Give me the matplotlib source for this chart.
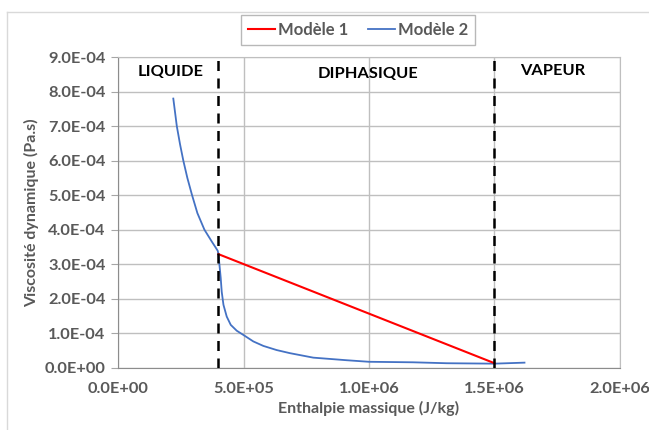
import numpy as np
import matplotlib.pyplot as plt
from matplotlib.lines import Line2D

# Modèle 1 : droite dans la zone diphasique
h_m1 = [4.0e5, 1.5e6]
mu_m1 = [3.29e-4, 1.3e-5]

# Modèle 2 : courbe continue
h_m2 = [2.20e5, 2.34e5, 2.47e5, 2.60e5, 2.76e5, 2.94e5, 3.16e5, 3.44e5, 3.73e5, 3.97e5,
        4.00e5, 4.04e5, 4.09e5, 4.13e5, 4.20e5, 4.33e5, 4.49e5, 4.73e5, 4.99e5, 5.39e5,
        5.79e5, 6.32e5, 6.85e5, 7.78e5, 9.11e5, 1.00e6, 1.176e6, 1.31e6, 1.50e6, 1.62e6]
mu_m2 = [7.80e-4, 7.00e-4, 6.47e-4, 6.00e-4, 5.50e-4, 5.02e-4, 4.48e-4, 4.00e-4, 3.66e-4, 3.39e-4,
         3.29e-4, 2.98e-4, 2.60e-4, 2.20e-4, 1.82e-4, 1.48e-4, 1.24e-4, 1.07e-4, 0.95e-4, 0.76e-4,
         0.63e-4, 0.51e-4, 0.42e-4, 0.29e-4, 0.215e-4, 0.17e-4, 0.155e-4, 0.128e-4, 0.116e-4, 0.145e-4]

# limites des zones
h_sat = [4.0e5, 1.5e6]
zones = ["LIQUIDE", "DIPHASIQUE", "VAPEUR"]
zones_x = [2.10e5, 9.95e5, 1.733e6]
zones_y = [8.58e-4, 8.5e-4, 8.6e-4]

xticks = np.arange(0, 2.01e6, 5e5)
yticks = np.arange(0, 9.01e-4, 1e-4)

plt.rcParams['font.family'] = ['Lato', 'DejaVu Sans']
gris = "#595959"

fig = plt.figure(figsize=(6.49, 4.30), dpi=100)
ax = fig.add_axes([0.182, 0.145, 0.773, 0.722])

# cadre du graphique (bords haut et gauche visibles)
fig.add_artist(Line2D([0.0115, 0.0115], [0.0, 0.972], transform=fig.transFigure,
                      color="#d9d9d9", lw=1))
fig.add_artist(Line2D([0.0115, 1.0], [0.972, 0.972], transform=fig.transFigure,
                      color="#d9d9d9", lw=1))

ax.plot(h_m1, mu_m1, color="red", lw=1.5, label="Modèle 1", zorder=4)
ax.plot(h_m2, mu_m2, color="#4472c4", lw=1.3, label="Modèle 2", zorder=3)

for h in h_sat:
    ax.plot([h, h], [0, 9e-4], color="black", lw=1.8, ls=(0, (4, 3)), zorder=5)

for txt, xz, yz in zip(zones, zones_x, zones_y):
    ax.text(xz, yz, txt, ha="center", va="center", fontsize=11.8,
            fontweight="bold", color="black")

ax.set_xlim(0, 2e6)
ax.set_ylim(0, 9e-4)
ax.set_xticks(xticks)
ax.set_yticks(yticks)
ax.set_xticklabels(["%.1E" % v for v in xticks])
ax.set_yticklabels(["%.1E" % v for v in yticks])
ax.tick_params(axis="x", length=0, pad=10, labelsize=11.8, labelcolor=gris)
ax.tick_params(axis="y", length=5, color="#a6a6a6", pad=4, labelsize=11.8, labelcolor=gris)
for lab in ax.get_xticklabels() + ax.get_yticklabels():
    lab.set_fontweight("bold")

ax.grid(True, color="#bfbfbf", lw=1)
ax.set_axisbelow(True)
for s in ["top", "right"]:
    ax.spines[s].set_color("#bfbfbf")
for s in ["left", "bottom"]:
    ax.spines[s].set_color("#8c8c8c")

ax.set_xlabel("Enthalpie massique (J/kg)", fontsize=11.5, fontweight="bold", color=gris, labelpad=4)
ax.set_ylabel("Viscosité dynamique (Pa.s)", fontsize=11.5, fontweight="bold", color=gris, labelpad=4)

leg = fig.legend(loc="center", bbox_to_anchor=(0.552, 0.930), ncol=2, frameon=True,
                 fancybox=False, edgecolor="#a6a6a6", handlelength=1.6, handletextpad=0.2,
                 columnspacing=1.2, prop={"size": 12, "weight": "bold"})
for t in leg.get_texts():
    t.set_color(gris)

fig.savefig("out.png", dpi=100)
